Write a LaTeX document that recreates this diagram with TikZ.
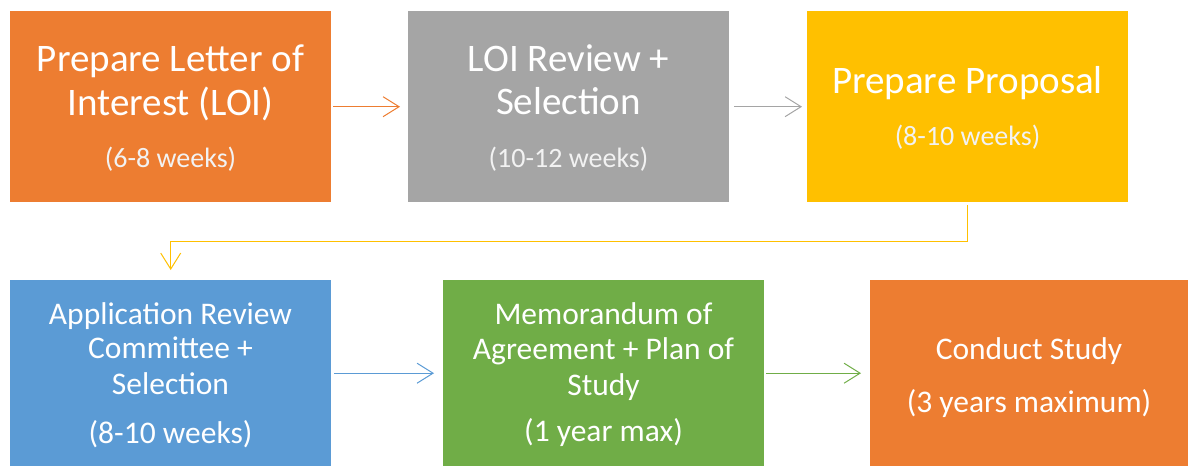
\documentclass[tikz,border=0pt]{standalone}
\usepackage{fontspec}
\setmainfont{Carlito}
\usetikzlibrary{arrows.meta,calc}
\definecolor{cOrange}{HTML}{ED7D31}
\definecolor{cGray}{HTML}{A5A5A5}
\definecolor{cYellow}{HTML}{FFC000}
\definecolor{cBlue}{HTML}{5B9BD5}
\definecolor{cGreen}{HTML}{70AD47}
\definecolor{cSoft}{HTML}{F2F2F2}
\begin{document}
\begin{tikzpicture}[x=1pt,y=-1pt,
  box/.style={draw=none, inner sep=0pt, anchor=north west, minimum width=321pt},
  rowone/.style={box, minimum height=191pt},
  rowtwo/.style={box, minimum height=186pt},
  bigtxt/.style={anchor=base, inner sep=0pt, text=white, font=\fontsize{39}{45}\selectfont},
  weektxt/.style={anchor=base, inner sep=0pt, text=cSoft, font=\fontsize{28}{32}\selectfont},
  midtxt/.style={anchor=base, inner sep=0pt, text=white, font=\fontsize{31.5}{35}\selectfont},
  flow/.style={line width=1pt, -{Straight Barb[length=16pt,width=20pt,line width=1pt]}}
]
\useasboundingbox (0,0) rectangle (1188,466);

% row 1 boxes
\node[rowone, fill=cOrange] (b1) at (10,11) {};
\node[rowone, fill=cGray] (b2) at (408,11) {};
\node[rowone, fill=cYellow] (b3) at (807,11) {};
% row 2 boxes
\node[rowtwo, fill=cBlue] (b4) at (10,280) {};
\node[rowtwo, fill=cGreen] (b5) at (443,280) {};
\node[rowtwo, fill=cOrange, minimum width=318pt] (b6) at (870,280) {};

% texts box 1
\node[bigtxt] (t1a) at (170.5,71) {Prepare Letter of};
\node[bigtxt] (t1b) at (170.5,115) {Interest (LOI)};
\node[weektxt] (t1c) at (170.5,167) {(6-8 weeks)};
% texts box 2
\node[bigtxt] (t2a) at (568.5,71) {LOI Review +};
\node[bigtxt] (t2b) at (568.5,114) {Selection};
\node[weektxt] (t2c) at (568.5,167) {(10-12 weeks)};
% texts box 3
\node[bigtxt] (t3a) at (967.5,93) {Prepare Proposal};
\node[weektxt] (t3b) at (967.5,145) {(8-10 weeks)};
% texts box 4
\node[midtxt] (t4a) at (170.5,324) {Application Review};
\node[midtxt] (t4b) at (170.5,358) {Committee +};
\node[midtxt] (t4c) at (170.5,394) {Selection};
\node[midtxt] (t4d) at (170.5,443) {(8-10 weeks)};
% texts box 5
\node[midtxt] (t5a) at (603.5,324) {Memorandum of};
\node[midtxt] (t5b) at (603.5,359) {Agreement + Plan of};
\node[midtxt] (t5c) at (603.5,395) {Study};
\node[midtxt] (t5d) at (603.5,441) {(1 year max)};
% texts box 6
\node[midtxt] (t6a) at (1029,359) {Conduct Study};
\node[midtxt] (t6b) at (1029,412) {(3 years maximum)};

% connectors
\draw[flow, cOrange, shorten <=2pt, shorten >=8pt] (b1.east) -- (b2.west);
\draw[flow, cGray, shorten <=5pt, shorten >=5pt] (b2.east) -- (b3.west);
\draw[flow, cYellow, shorten <=3pt, shorten >=10pt] (b3.south) |- ($(b3.south)!.5!(b4.north)$) -| (b4.north);
\draw[flow, cBlue, shorten <=3pt, shorten >=9pt] (b4.east) -- (b5.west);
\draw[flow, cGreen, shorten <=2pt, shorten >=9pt] (b5.east) -- (b6.west);
\end{tikzpicture}
\end{document}
